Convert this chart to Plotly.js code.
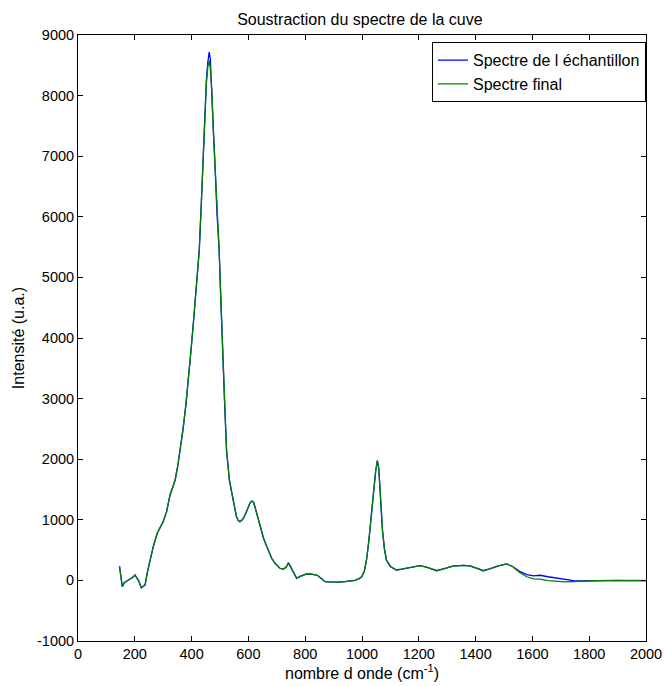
<!DOCTYPE html>
<html>
<head>
<meta charset="utf-8">
<script src="https://cdn.plot.ly/plotly-3.0.1.min.js"></script>
<style>html,body{margin:0;padding:0;background:#fff;}#chart{width:664px;height:686px;}</style>
</head>
<body>
<div id="chart"></div>
<script>
const wavenumber = [146,150,156,163,171,182,192,201,207,212,218,223,229,236,245,254,265,279,290,300,312,324,333,342,351,360,370,380,390,398,406,414,421,427,434,441,447,452,457,462,466,471,476,480,485,490,497,503,509,516,523,533,540,547,553,558,564,570,576,582,590,600,606,612,618,623,632,641,653,665,673,682,696,711,723,733,741,749,760,770,782,793,805,817,830,840,846,855,870,885,899,920,940,958,975,990,999,1008,1016,1024,1031,1037,1042,1048,1054,1059,1063,1068,1072,1079,1086,1100,1121,1140,1169,1198,1204,1230,1263,1290,1320,1357,1380,1405,1427,1450,1480,1509,1530,1555,1580,1605,1627,1655,1685,1715,1744,1780,1820,1861,1900,1940,1970,2000];

const sampleSpectrum = [238,60,-104,-40,-20,20,50,90,40,5,-60,-120,-100,-76,150,337,557,777,880,970,1135,1410,1530,1657,1880,2152,2500,2900,3350,3802,4230,4680,5080,5452,6200,7100,7800,8250,8550,8720,8600,8150,7500,7100,6500,6000,5452,4600,3802,2950,2152,1657,1480,1327,1170,1051,990,970,990,1025,1100,1216,1280,1310,1290,1216,1050,886,700,556,450,365,270,200,183,220,290,220,100,35,65,90,106,106,100,89,73,40,-21,-25,-31,-28,-20,-10,0,30,61,150,337,650,997,1300,1546,1800,1975,1850,1546,1150,832,520,337,230,172,185,216,243,245,215,160,195,235,249,240,200,160,190,240,271,230,150,95,75,85,60,35,20,-5,-10,-5,-5,0,-5,0,-5];

const finalSpectrum = [238,60,-104,-40,-20,20,50,90,40,5,-60,-120,-100,-76,150,337,557,777,880,970,1135,1410,1530,1657,1880,2152,2500,2900,3350,3802,4230,4680,5080,5452,6200,7100,7780,8200,8470,8580,8450,8100,7480,7100,6500,6000,5452,4600,3802,2950,2152,1657,1480,1327,1170,1051,990,970,990,1025,1100,1216,1280,1310,1290,1216,1050,886,700,556,450,365,270,200,183,220,290,220,100,35,65,90,106,106,100,89,73,40,-21,-25,-31,-28,-20,-10,0,30,61,150,337,650,997,1300,1546,1800,1975,1850,1546,1150,832,520,337,230,172,185,216,243,245,215,160,195,235,249,240,200,160,190,240,271,230,130,60,25,20,-5,-20,-25,-20,-10,-5,-5,0,-5,0,-5];

const seriesNames = ["Spectre de l échantillon", "Spectre final"];
const xTicks = [0,200,400,600,800,1000,1200,1400,1600,1800,2000];
const yTicks = [-1000,0,1000,2000,3000,4000,5000,6000,7000,8000,9000];

const fontFam = "Liberation Sans, Arial, sans-serif";

const traces = [
  {x: wavenumber, y: sampleSpectrum, name: seriesNames[0], type: "scatter", mode: "lines",
   line: {color: "#0000ff", width: 1.3}},
  {x: wavenumber, y: finalSpectrum, name: seriesNames[1], type: "scatter", mode: "lines",
   line: {color: "#008000", width: 1.3}}
];

const axisCommon = {
  showgrid: false, zeroline: false, showline: true, linecolor: "#000", linewidth: 1,
  mirror: "ticks", ticks: "inside", ticklen: 5, tickcolor: "#000", tickwidth: 1,
  tickfont: {family: fontFam, size: 14.5, color: "#000"}
};

const layout = {
  width: 664, height: 686,
  margin: {l: 78, r: 18, t: 35, b: 45},
  paper_bgcolor: "#fff", plot_bgcolor: "#fff",
  font: {family: fontFam, size: 14.5, color: "#000"},
  title: {text: "Soustraction du spectre de la cuve", font: {family: fontFam, size: 16, color: "#000"},
          x: 0.542, xanchor: "center", y: 0.972, yanchor: "middle"},
  xaxis: Object.assign({}, axisCommon, {
    range: [0, 2000], tickvals: xTicks, ticktext: xTicks.map(String),
    title: {text: "nombre d onde (cm<sup>-1</sup>)", font: {family: fontFam, size: 16, color: "#000"}, standoff: 4}
  }),
  yaxis: Object.assign({}, axisCommon, {
    range: [-1000, 9000], tickvals: yTicks, ticktext: yTicks.map(String),
    title: {text: "Intensité (u.a.)", font: {family: fontFam, size: 16, color: "#000"}, standoff: 8}
  }),
  showlegend: true,
  legend: {x: 1, xanchor: "right", y: 0.988, yanchor: "top", bgcolor: "#fff",
           bordercolor: "#000", borderwidth: 1, font: {family: fontFam, size: 16, color: "#000"},
           tracegroupgap: 0}
};

Plotly.newPlot("chart", traces, layout, {displayModeBar: false, staticPlot: true});
</script>
</body>
</html>
